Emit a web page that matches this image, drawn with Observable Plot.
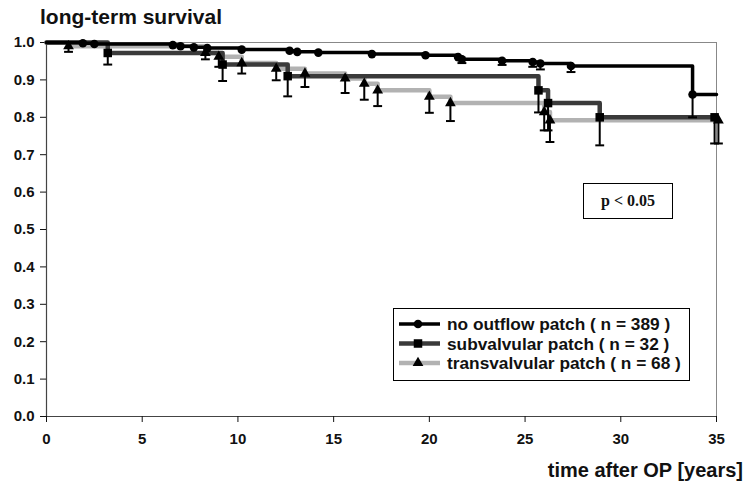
<!DOCTYPE html>
<html>
<head>
<meta charset="utf-8">
<script src="https://cdn.jsdelivr.net/npm/d3@7"></script>
<script src="https://cdn.jsdelivr.net/npm/@observablehq/plot@0.6"></script>
<style>
  body { margin: 0; background: #fff; }
  #wrap { position: relative; width: 745px; height: 484px; font-family: "Liberation Sans", Arial, sans-serif; color: #111; }
  #title { position: absolute; left: 40px; top: 5px; font-weight: bold; font-size: 21px; }
  #xlabel { position: absolute; right: 2px; top: 459px; font-weight: bold; font-size: 20px; }
  #pbox { position: absolute; left: 583px; top: 183px; width: 88px; height: 34px; border: 1px solid #000;
          font-family: "Liberation Serif", "Times New Roman", serif; font-weight: bold; font-size: 16px;
          display: flex; align-items: center; justify-content: center; background: #fff; }
  #legend { position: absolute; left: 393px; top: 308px; }
  #chart { position: absolute; left: 0; top: 0; }
</style>
</head>
<body>
<div id="wrap">
  <div id="chart"></div>
  <div id="title">long-term survival</div>
  <div id="xlabel">time after OP [years]</div>
  <div id="pbox">p &lt; 0.05</div>
  <svg id="legend" width="298" height="74"></svg>
</div>
<script>
// ---- data ----
const xTicks = [0, 5, 10, 15, 20, 25, 30, 35];
const yTicks = [0.0, 0.1, 0.2, 0.3, 0.4, 0.5, 0.6, 0.7, 0.8, 0.9, 1.0];

const seriesNames = ["no outflow patch ( n = 389 )", "subvalvular patch ( n = 32 )", "transvalvular patch ( n = 68 )"];

// no outflow patch: event times, survival, lower confidence limit (null = not visible)
const noOutflowTime  = [1.9, 2.5, 6.6, 7.0, 7.7, 8.4, 10.2, 12.7, 13.1, 14.2, 17.0, 19.8, 21.5, 21.7, 23.8, 25.4, 25.8, 27.4, 33.75];
const noOutflowSurv  = [0.998, 0.996, 0.993, 0.990, 0.987, 0.985, 0.981, 0.978, 0.975, 0.973, 0.969, 0.966, 0.961, 0.955, 0.951, 0.948, 0.944, 0.937, 0.861];
const noOutflowLower = [null, null, null, null, null, null, null, null, null, null, null, null, null, 0.945, 0.940, 0.935, 0.928, 0.921, 0.800];

// subvalvular patch
const subTime  = [3.2, 9.2, 12.6, 25.7, 26.2, 28.9, 34.9];
const subSurv  = [0.972, 0.941, 0.910, 0.872, 0.838, 0.800, 0.800];
const subLower = [0.941, 0.897, 0.856, 0.813, 0.765, 0.725, 0.730];

// transvalvular patch
const transTime  = [1.15, 8.3, 9.0, 10.2, 12.0, 13.5, 15.6, 16.6, 17.3, 20.0, 21.1, 26.0, 26.3, 35.1];
const transSurv  = [0.990, 0.972, 0.962, 0.945, 0.930, 0.917, 0.904, 0.890, 0.872, 0.855, 0.838, 0.814, 0.792, 0.792];
const transLower = [0.975, 0.955, 0.935, 0.917, 0.899, 0.881, 0.865, 0.847, 0.830, 0.812, 0.790, 0.765, 0.734, 0.730];

const endTime = 35;

// ---- build tables ----
function events(name, t, s, lo) {
  return t.map((d, i) => ({series: name, t: d, s: s[i], lo: lo[i]}));
}
function steps(name, t, s) {
  const pts = [{series: name, t: 0, s: 1}];
  t.forEach((d, i) => { if (d <= endTime) pts.push({series: name, t: d, s: s[i]}); });
  pts.push({series: name, t: endTime, s: s[s.length - 1]});
  return pts;
}
const evNo = events(seriesNames[0], noOutflowTime, noOutflowSurv, noOutflowLower);
const evSub = events(seriesNames[1], subTime, subSurv, subLower);
const evTrans = events(seriesNames[2], transTime, transSurv, transLower);
const allEv = [...evTrans, ...evSub, ...evNo].filter(d => d.lo != null);

const lineColor = {[seriesNames[0]]: "#000", [seriesNames[1]]: "#3a3a3a", [seriesNames[2]]: "#b2b2b2"};
const lineWidth = {[seriesNames[0]]: 3.5, [seriesNames[1]]: 4.5, [seriesNames[2]]: 4.5};

const capSymbol = { draw(ctx, size) { const w = Math.sqrt(size); ctx.moveTo(-w / 2, 0); ctx.lineTo(w / 2, 0); } };

const fmt = d3.format(".1f");

const chart = Plot.plot({
  width: 745,
  height: 484,
  marginLeft: 46,
  marginRight: 29,
  marginTop: 42,
  marginBottom: 68,
  style: { fontFamily: "'Liberation Sans', Arial, sans-serif", fontWeight: "bold", fontSize: "15px", color: "#111", background: "#fff" },
  x: { domain: [0, 35] },
  y: { domain: [0, 1] },
  marks: [
    Plot.frame({ stroke: "#888", strokeWidth: 1 }),
    Plot.ruleX([0], { stroke: "#444", strokeWidth: 1.2 }),
    Plot.ruleY([0], { stroke: "#444", strokeWidth: 1.2 }),
    Plot.axisX({ ticks: xTicks, tickSize: 6, tickPadding: 11, label: null, fontSize: 15, fontWeight: "bold" }),
    Plot.axisY({ ticks: yTicks, tickSize: 6, tickPadding: 6, label: null, tickFormat: fmt, fontSize: 15, fontWeight: "bold" }),
    Plot.line(steps(seriesNames[2], transTime, transSurv), { x: "t", y: "s", curve: "step-after", stroke: lineColor[seriesNames[2]], strokeWidth: lineWidth[seriesNames[2]] }),
    Plot.line(steps(seriesNames[1], subTime, subSurv), { x: "t", y: "s", curve: "step-after", stroke: lineColor[seriesNames[1]], strokeWidth: lineWidth[seriesNames[1]] }),
    Plot.line(steps(seriesNames[0], noOutflowTime, noOutflowSurv), { x: "t", y: "s", curve: "step-after", stroke: lineColor[seriesNames[0]], strokeWidth: lineWidth[seriesNames[0]] }),
    Plot.ruleX(allEv, { x: "t", y1: "s", y2: "lo", stroke: "#000", strokeWidth: 2 }),
    Plot.dot(allEv, { x: "t", y: "lo", symbol: capSymbol, r: 5, stroke: "#000", fill: "none", strokeWidth: 2 }),
    Plot.dot(evTrans, { x: "t", y: "s", symbol: "triangle", r: 4, fill: "#000", stroke: "none" }),
    Plot.dot(evSub, { x: "t", y: "s", symbol: "square", r: 4.8, fill: "#000", stroke: "none" }),
    Plot.dot(evNo, { x: "t", y: "s", symbol: "circle", r: 4.3, fill: "#000", stroke: "none" })
  ]
});
document.getElementById("chart").appendChild(chart);

// ---- legend ----
const leg = d3.select("#legend");
leg.append("rect").attr("x", 0.5).attr("y", 0.5).attr("width", 296).attr("height", 72)
  .attr("fill", "#fff").attr("stroke", "#000").attr("stroke-width", 1);
const symbolsForLegend = [d3.symbolCircle, d3.symbolSquare, d3.symbolTriangle];
const symbolSizes = [Math.PI * 4.3 * 4.3, Math.PI * 4.8 * 4.8, Math.PI * 4 * 4];
seriesNames.forEach((name, i) => {
  const y = 16 + i * 19.5;
  const g = leg.append("g");
  g.append("line").attr("x1", 6).attr("x2", 47).attr("y1", y).attr("y2", y)
    .attr("stroke", lineColor[name]).attr("stroke-width", lineWidth[name]);
  g.append("path").attr("d", d3.symbol(symbolsForLegend[i], symbolSizes[i])()).attr("transform", `translate(25,${y})`).attr("fill", "#000");
  g.append("text").attr("x", 54).attr("y", y).attr("dominant-baseline", "central")
    .attr("font-family", "'Liberation Sans', Arial, sans-serif").attr("font-weight", "bold").attr("font-size", 17.3)
    .attr("fill", "#111").text(name);
});
</script>
</body>
</html>
